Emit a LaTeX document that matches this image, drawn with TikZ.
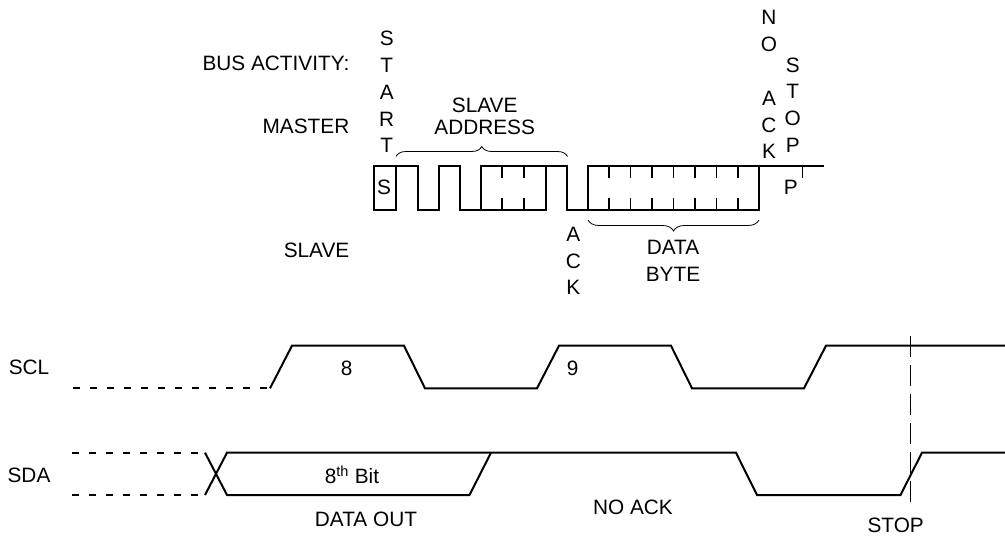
\documentclass[tikz,border=0pt]{standalone}
\usepackage{fontspec}
\setmainfont{Liberation Sans}
\usepackage{tikz}
\usetikzlibrary{decorations.pathreplacing}

\tikzset{
  wave/.style={line width=2pt, black, line join=miter},
  tick/.style={line width=1.4pt, black},
  idle/.style={line width=2pt, black, dash pattern=on 7pt off 10pt},
  marker/.style={line width=0.9pt, black, dash pattern=on 21pt off 8pt},
  curly/.style={line width=0.8pt, black, decorate},
  label/.style={inner sep=0pt, align=center, font=\fontsize{20.8}{21.5}\selectfont},
  column/.style={inner sep=0pt, align=center, font=\fontsize{20.8}{26.8}\selectfont}
}

\begin{document}
\begin{tikzpicture}[x=1pt,y=-1pt]
\useasboundingbox (0,0) rectangle (1005,538);

\begin{scope}[every node/.style={label}]
\node (0)[anchor=east] at (349.5,63)  {BUS ACTIVITY:}; 
\node (1)[anchor=east] at (349.5,126)  {MASTER}; 
\node (2)[anchor=east] at (349.5,250)  {SLAVE}; 
\node (3)[column] at (386.7,92)  {S\\T\\A\\R\\T}; 
\node (4) at (484.7,116.5)  {SLAVE\\ADDRESS}; 
\node (5)[column] at (769,84.7)  {N\\O\\ \\A\\C\\K}; 
\node (6)[column] at (792.7,105)  {S\\T\\O\\P}; 
\node (7) at (384,187)  {S}; 
\node (8) at (790.7,187)  {P}; 
\node (9)[column] at (573.3,261)  {A\\C\\K}; 
\node (10)[column] at (673,261)  {DATA\\BYTE}; 

\node (11) at (29,367.7)  {SCL}; 
\node (12) at (346.7,368)  {8}; 
\node (13) at (572.7,368)  {9}; 
\node (14) at (29,475)  {SDA}; 
\node (15) at (352,475)  {8\textsuperscript{th} Bit}; 
\node (16) at (366,519)  {DATA OUT}; 
\node (17) at (633,507)  {NO ACK}; 
\node (18) at (895.7,525.7)  {STOP}; 
\end{scope}

% bus activity
\draw[wave] (396,166) -- (374,166) -- (374,209.5) -- (396,209.5) -- cycle; 
\draw[wave] (396,166) -- (417.5,166) -- (417.5,209.5) -- (439,209.5) -- (439,166) -- (460,166) -- (460,209.5) -- (481,209.5) -- (481,166) -- (566.5,166) -- (566.5,209.5) -- (759,209.5) -- (759,166) -- (824,166); 
\draw[wave] (481,209.5) -- (545.7,209.5) -- (545.7,166); 
\draw[wave] (588,209.5) -- (588,166) -- (759,166); 

\draw[tick] (502,166) -- (502,178); 
\draw[tick] (524,166) -- (524,178); 
\draw[tick] (502,198) -- (502,209.5); 
\draw[tick] (524,198) -- (524,209.5); 

\draw[tick] (609,166) -- (609,178); 
\draw[tick] (630.5,166) -- (630.5,178); 
\draw[tick] (652,166) -- (652,178); 
\draw[tick] (673.3,166) -- (673.3,178); 
\draw[tick] (695,166) -- (695,178); 
\draw[tick] (716.5,166) -- (716.5,178); 
\draw[tick] (738,166) -- (738,178); 
\draw[tick] (609,198) -- (609,209.5); 
\draw[tick] (630.5,198) -- (630.5,209.5); 
\draw[tick] (652,198) -- (652,209.5); 
\draw[tick] (673.3,198) -- (673.3,209.5); 
\draw[tick] (695,198) -- (695,209.5); 
\draw[tick] (716.5,198) -- (716.5,209.5); 
\draw[tick] (738,198) -- (738,209.5); 
\draw[tick] (802.7,166) -- (802.7,178); 

% braces
\coordinate (a) at (396,156.5); 
\coordinate (b) at (567.5,156.5); 
\coordinate (c) at (588,220); 
\coordinate (d) at (759,220); 
\draw[curly, decoration={brace,amplitude=10pt}] (a) -- (b); 
\draw[curly, decoration={brace,mirror,amplitude=11pt}] (c) -- (d); 

% SCL
\draw[idle] (73,388.3) -- (270,388.3); 
\draw[wave] (270,388.3) -- (292,345.7) -- (404,345.7) -- (425,388.3) -- (537,388.3) -- (559,345.7) -- (671,345.7) -- (692,388.3) -- (804,388.3) -- (826,345.7) -- (1005,345.7); 

% SDA
\draw[idle] (72,452.7) -- (205,452.7); 
\draw[idle] (72,495) -- (205,495); 
\draw[wave] (205,452.7) -- (227,495) -- (469.5,495) -- (491,452.7); 
\draw[wave] (205,495) -- (227,452.7) -- (736,452.7) -- (757,495) -- (900.5,495) -- (922,452.7) -- (1005,452.7); 

% stop marker
\coordinate (e) at (910.7,336); 
\coordinate (f) at (910.7,504); 
\draw[marker] (e) -- (f); 
\end{tikzpicture}
\end{document}
